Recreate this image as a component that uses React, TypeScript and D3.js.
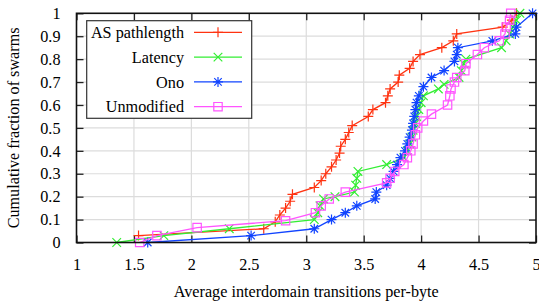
import React, { useRef, useEffect } from 'react';
import * as d3 from 'd3';

// CDF points: [transitions per byte, fraction]
const asPathlength: [number, number][] = [
  [1.54, 0.03], [2.63, 0.06], [2.73, 0.09], [2.77, 0.12], [2.82, 0.15], [2.86, 0.18],
  [2.88, 0.21], [3.07, 0.24], [3.13, 0.27], [3.17, 0.30], [3.22, 0.33], [3.26, 0.36],
  [3.29, 0.39], [3.30, 0.42], [3.34, 0.45], [3.37, 0.48], [3.40, 0.51], [3.54, 0.55],
  [3.58, 0.58], [3.69, 0.61], [3.71, 0.64], [3.73, 0.67], [3.80, 0.70], [3.81, 0.73],
  [3.90, 0.76], [3.93, 0.79], [3.99, 0.82], [4.18, 0.85], [4.28, 0.88], [4.31, 0.91],
  [4.71, 0.94], [4.79, 0.97], [4.83, 1.0],
];

const latency: [number, number][] = [
  [1.35, 0.0], [1.76, 0.03], [2.33, 0.06], [3.07, 0.10], [3.10, 0.13], [3.12, 0.16],
  [3.15, 0.19], [3.25, 0.20], [3.42, 0.22], [3.43, 0.25], [3.44, 0.28], [3.45, 0.31],
  [3.70, 0.34], [3.85, 0.37], [3.88, 0.40], [3.90, 0.43], [3.92, 0.46], [3.93, 0.49],
  [3.95, 0.52], [3.96, 0.55], [3.98, 0.58], [4.00, 0.61], [4.02, 0.64], [4.15, 0.67],
  [4.20, 0.69], [4.33, 0.72], [4.35, 0.75], [4.37, 0.78], [4.39, 0.80], [4.70, 0.85],
  [4.74, 0.88], [4.77, 0.91], [4.80, 0.94], [4.83, 0.97], [4.86, 1.0],
];

const ono: [number, number][] = [
  [1.62, 0.0], [2.52, 0.03], [3.07, 0.06], [3.22, 0.10], [3.34, 0.13], [3.44, 0.16],
  [3.60, 0.19], [3.61, 0.22], [3.70, 0.25], [3.73, 0.28], [3.76, 0.31], [3.79, 0.34],
  [3.82, 0.37], [3.86, 0.40], [3.88, 0.43], [3.90, 0.46], [3.92, 0.49], [3.93, 0.52],
  [3.94, 0.55], [3.95, 0.58], [3.96, 0.61], [3.98, 0.64], [4.02, 0.68], [4.09, 0.72],
  [4.20, 0.75], [4.29, 0.79], [4.31, 0.82], [4.32, 0.85], [4.62, 0.88], [4.82, 0.91],
  [4.83, 0.94], [4.97, 1.0],
];

const unmodified: [number, number][] = [
  [1.55, 0.0], [1.70, 0.03], [2.05, 0.065], [2.82, 0.095], [3.08, 0.13], [3.13, 0.16],
  [3.20, 0.19], [3.34, 0.22], [3.70, 0.26], [3.73, 0.28], [3.77, 0.31], [3.85, 0.34],
  [3.88, 0.37], [3.91, 0.40], [3.93, 0.43], [3.95, 0.47], [3.97, 0.50], [4.02, 0.53],
  [4.09, 0.56], [4.23, 0.60], [4.25, 0.64], [4.26, 0.67], [4.29, 0.70], [4.31, 0.72],
  [4.38, 0.75], [4.39, 0.78], [4.49, 0.82], [4.55, 0.85], [4.68, 0.88], [4.73, 0.91],
  [4.74, 0.94], [4.77, 0.97], [4.78, 1.0],
];

const xTicks = [1, 1.5, 2, 2.5, 3, 3.5, 4, 4.5, 5];
const yTicks = [0, 0.1, 0.2, 0.3, 0.4, 0.5, 0.6, 0.7, 0.8, 0.9, 1];

const seriesNames = ['AS pathlength', 'Latency', 'Ono', 'Unmodified'];
const seriesColors = ['#ff3311', '#33ee33', '#1144ff', '#ff55ff'];
const seriesMarkers = ['plus', 'cross', 'star', 'square'];
const seriesData = [asPathlength, latency, ono, unmodified];

const FONT = '"Liberation Serif", "Times New Roman", serif';
const FS = 16.2;

const App = () => {
  const svgRef = useRef<SVGSVGElement>(null);

  useEffect(() => {
    const width = 539;
    const height = 305;
    const margin = { top: 13.3, right: 3, bottom: 62.5, left: 76.5 };

    const svg = d3.select(svgRef.current);
    svg.selectAll('*').remove();

    const x = d3.scaleLinear().domain([1, 5]).range([margin.left, width - margin.right]);
    const y = d3.scaleLinear().domain([0, 1]).range([height - margin.bottom, margin.top]);

    // grid
    svg.append('g').selectAll('line.gx').data(xTicks.slice(1, -1)).enter().append('line')
      .attr('x1', d => x(d)).attr('x2', d => x(d))
      .attr('y1', y(0)).attr('y2', y(1))
      .attr('stroke', '#dcdcdc').attr('stroke-width', 1.2);
    svg.append('g').selectAll('line.gy').data(yTicks.slice(1, -1)).enter().append('line')
      .attr('y1', d => y(d)).attr('y2', d => y(d))
      .attr('x1', x(1)).attr('x2', x(5))
      .attr('stroke', '#dcdcdc').attr('stroke-width', 1.2);

    // axes with inward ticks, mirrored
    const tl = 7;
    const ax = svg.append('g');
    ax.append('g').attr('transform', `translate(0,${y(0)})`)
      .call(d3.axisBottom(x).tickValues(xTicks).tickSize(-tl).tickPadding(tl + 9).tickFormat(d3.format('')));
    ax.append('g').attr('transform', `translate(0,${y(1)})`)
      .call(d3.axisTop(x).tickValues(xTicks).tickSize(-tl).tickFormat(() => ''));
    ax.append('g').attr('transform', `translate(${x(1)},0)`)
      .call(d3.axisLeft(y).tickValues(yTicks).tickSize(-tl).tickPadding(tl + 9).tickFormat(d3.format('')));
    ax.append('g').attr('transform', `translate(${x(5)},0)`)
      .call(d3.axisRight(y).tickValues(yTicks).tickSize(-tl).tickFormat(() => ''));
    ax.selectAll('.domain').remove();
    ax.selectAll('.tick line').attr('stroke', '#222').attr('stroke-width', 1.3);
    ax.selectAll('.tick text').attr('fill', '#000')
      .attr('font-family', FONT).attr('font-size', FS);

    const markerPath = (kind: string, s: number) => {
      if (kind === 'plus') return `M${-s},0H${s}M0,${-s}V${s}`;
      if (kind === 'cross') return `M${-s},${-s}L${s},${s}M${-s},${s}L${s},${-s}`;
      if (kind === 'star') {
        const t = s * 0.75;
        return `M${-s},0H${s}M0,${-s}V${s}M${-t},${-t}L${t},${t}M${-t},${t}L${t},${-t}`;
      }
      return `M${-s},${-s}H${s}V${s}H${-s}Z`;
    };
    const markerSize = (kind: string) => (kind === 'plus' ? 5 : kind === 'cross' ? 4.3 : kind === 'star' ? 5 : 4.2);

    const line = d3.line<[number, number]>().x(d => x(d[0])).y(d => y(d[1]));

    seriesData.forEach((data, i) => {
      const g = svg.append('g');
      g.append('path').datum(data).attr('d', line)
        .attr('fill', 'none').attr('stroke', seriesColors[i]).attr('stroke-width', 1.3);
      g.selectAll('path.m').data(data).enter().append('path')
        .attr('transform', d => `translate(${x(d[0])},${y(d[1])})`)
        .attr('d', markerPath(seriesMarkers[i], markerSize(seriesMarkers[i])))
        .attr('fill', 'none').attr('stroke', seriesColors[i]).attr('stroke-width', 1.2);
    });

    // frame
    svg.append('rect')
      .attr('x', x(1)).attr('y', y(1))
      .attr('width', x(5) - x(1)).attr('height', y(0) - y(1))
      .attr('fill', 'none').attr('stroke', '#111').attr('stroke-width', 1.6);

    // legend
    const lg = svg.append('g').attr('font-family', FONT).attr('font-size', FS);
    lg.append('rect').attr('x', 86.7).attr('y', 20.7).attr('width', 165).attr('height', 97.6)
      .attr('fill', '#fff').attr('stroke', '#333').attr('stroke-width', 1.2);
    seriesNames.forEach((name, i) => {
      const cy = 32.3 + i * 24.8;
      lg.append('text').attr('x', 184).attr('y', cy).attr('dy', '0.35em')
        .attr('text-anchor', 'end').attr('fill', '#000').text(name);
      lg.append('line').attr('x1', 194).attr('x2', 242).attr('y1', cy).attr('y2', cy)
        .attr('stroke', seriesColors[i]).attr('stroke-width', 1.3);
      lg.append('path').attr('transform', `translate(218,${cy})`)
        .attr('d', markerPath(seriesMarkers[i], markerSize(seriesMarkers[i])))
        .attr('fill', 'none').attr('stroke', seriesColors[i]).attr('stroke-width', 1.2);
    });

    // axis titles
    svg.append('text').attr('x', (x(1) + x(5)) / 2).attr('y', 297)
      .attr('text-anchor', 'middle').attr('font-family', FONT).attr('font-size', FS)
      .text('Average interdomain transitions per-byte');
    svg.append('text').attr('transform', `translate(19,${(y(0) + y(1)) / 2}) rotate(-90)`)
      .attr('text-anchor', 'middle').attr('font-family', FONT).attr('font-size', FS)
      .text('Cumulative fraction of swarms');
  }, []);

  return (
    <svg ref={svgRef} width={539} height={305}
      style={{ position: 'absolute', left: 0, top: 0, background: '#fff' }} />
  );
};

export default App;
